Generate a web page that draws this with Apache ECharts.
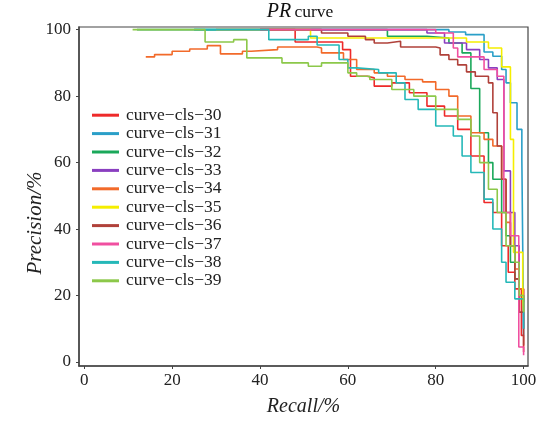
<!DOCTYPE html>
<html><head><meta charset="utf-8">
<script src="https://cdn.jsdelivr.net/npm/echarts@6/dist/echarts.min.js"></script>
<style>html,body{margin:0;padding:0;background:#fff;}#c{width:545px;height:422px;}</style>
</head><body><div id="c"></div>
<script>
// ---- data (recall %, precision %) step points ----
const classNames = ['curve\u2212cls\u221230','curve\u2212cls\u221231','curve\u2212cls\u221232','curve\u2212cls\u221233','curve\u2212cls\u221234','curve\u2212cls\u221235','curve\u2212cls\u221236','curve\u2212cls\u221237','curve\u2212cls\u221238','curve\u2212cls\u221239'];
const xTicks = [0,20,40,60,80,100];
const yTicks = [0,20,40,60,80,100];
const cls30 = [[40,100],[48,96.3],[58.8,94],[60.6,86],[64.4,85.5],[66,83],[70,84],[74,81],[78,77],[82,74],[85,70],[88,62],[91,48],[93,45],[95,35],[96.5,27],[98,22],[99.5,8],[100,3]];
const cls31 = [[25,100],[83,99.3],[86.8,98.5],[91,93.3],[93,92],[95,88],[96,84],[97,78],[98.5,70],[99.6,61],[100,8]];
const cls32 = [[12,100],[69,98],[78,97.5],[83,96],[86,93],[88,82.3],[90,69],[92,60],[93,55],[95,45],[96,38],[97,30],[98,25],[99,20],[100,18]];
const cls33 = [[30,100],[78,99],[82,96],[87,94],[90,91],[92,88.5],[94,85],[95.5,57.5],[97,45],[98,35],[99,22],[100,10]];
const cls34 = [[14,91.8],[16,92.5],[20,93.5],[24,94.2],[28,95.2],[31,92.7],[36,93.5],[38,94],[44,94.8],[53,94.5],[54,93],[59,91],[62,88],[66,87],[69,86],[73,85],[77,84.3],[80,82],[83,80],[85,74],[88,69],[91,67],[93,65],[95,55],[96,42],[97,35],[98,28],[99,22],[100,15]];
const cls35 = [[30,100],[51.5,97.5],[87,96.3],[92,94.5],[95,88.8],[97,67],[97.7,33],[99.8,19],[100,15]];
const cls36 = [[40,100],[54,99],[60,98],[64,97],[66,96],[69,96.5],[72,94.8],[80,94.5],[81,92.4],[83,91],[85,89.4],[87,87.3],[89,86],[92,84],[93,75],[94,65],[95,55],[96,45],[97,35],[98,25],[99,15],[100,5]];
const cls37 = [[40,100],[80,99],[84,94.5],[85,91.8],[91,88],[94,86],[95.5,45],[97,38],[98.9,4.5],[100,2]];
const cls38 = [[25,100],[42,97],[51,98],[53,95.4],[58,91],[60,88.5],[62,88],[67,87],[71,84],[73,79],[76,76],[80,71],[84,68],[86,62],[88,57],[91,49],[93,40],[95,30],[96,24],[98,19],[100,10]];
const cls39 = [[11,100],[27.5,96.3],[34,97],[37,91.5],[45,90],[51,89],[54,90],[60,87],[62,86],[65,85],[70,82],[75,80],[80,76],[85,73],[88,68],[90,60],[92,52],[94,45],[96,35],[98,30],[99,20],[100,15]];
const curves = [cls30,cls31,cls32,cls33,cls34,cls35,cls36,cls37,cls38,cls39];
const colors = ['#ee2a2a','#2a9fc8','#1aa85a','#8a3fc0','#f26a2a','#f5ee00','#b0413a','#f04fa0','#25b8b8','#8cc84a'];

const serif = '"Liberation Serif","DejaVu Serif",serif';
const chart = echarts.init(document.getElementById('c'), null, {renderer:'canvas'});
chart.setOption({
  backgroundColor:'#ffffff',
  animation:false,
  grid:{left:79,right:17,top:27,bottom:53,show:true,borderColor:'#444',borderWidth:1.2,backgroundColor:'transparent'},
  xAxis:{type:'value',min:-1.2,max:101,
    axisLine:{show:true,onZero:false,lineStyle:{color:'#444',width:1.5}},
    axisTick:{show:true,length:3,customValues:xTicks,lineStyle:{color:'#444'}},
    axisLabel:{customValues:xTicks,color:'#222',fontFamily:serif,fontSize:17,margin:6},
    splitLine:{show:false},
    name:'{i|Recall}{n|/%}',nameLocation:'middle',nameGap:31,
    nameTextStyle:{rich:{i:{fontFamily:serif,fontStyle:'italic',fontSize:20,color:'#222'},n:{fontFamily:serif,fontStyle:'italic',fontSize:20,color:'#222'}}}
  },
  yAxis:{type:'value',min:-1.2,max:100.8,
    axisLine:{show:true,onZero:false,lineStyle:{color:'#444',width:1.5}},
    axisTick:{show:true,length:3,customValues:yTicks,lineStyle:{color:'#444'}},
    axisLabel:{customValues:yTicks,color:'#222',fontFamily:serif,fontSize:17,margin:8},
    splitLine:{show:false}
  },
  legend:{orient:'vertical',left:87,top:101,icon:'rect',itemWidth:27,itemHeight:3,itemGap:0,
    textStyle:{fontFamily:serif,fontSize:17.5,color:'#222',lineHeight:18.4,padding:[0,0,0,2]},
    data:classNames},
  graphic:[
    {type:'text',x:300,y:12,style:{text:'{i|PR} {n|curve}',align:'center',verticalAlign:'middle',
      rich:{i:{fontFamily:serif,fontStyle:'italic',fontSize:20,fill:'#111'},n:{fontFamily:serif,fontSize:17.5,fill:'#111'}}}},
    {type:'text',x:35,y:223,rotation:Math.PI/2,style:{text:'{i|Precision}{n|/%}',align:'center',verticalAlign:'middle',
      rich:{i:{fontFamily:serif,fontStyle:'italic',fontSize:21,fill:'#222'},n:{fontFamily:serif,fontStyle:'italic',fontSize:21,fill:'#222'}}}}
  ],
  series: curves.map((d,i)=>({name:classNames[i],type:'line',step:'end',data:d,showSymbol:false,
    lineStyle:{width:1.6,color:colors[i]},itemStyle:{color:colors[i]},z:2+i}))
});
</script></body></html>
